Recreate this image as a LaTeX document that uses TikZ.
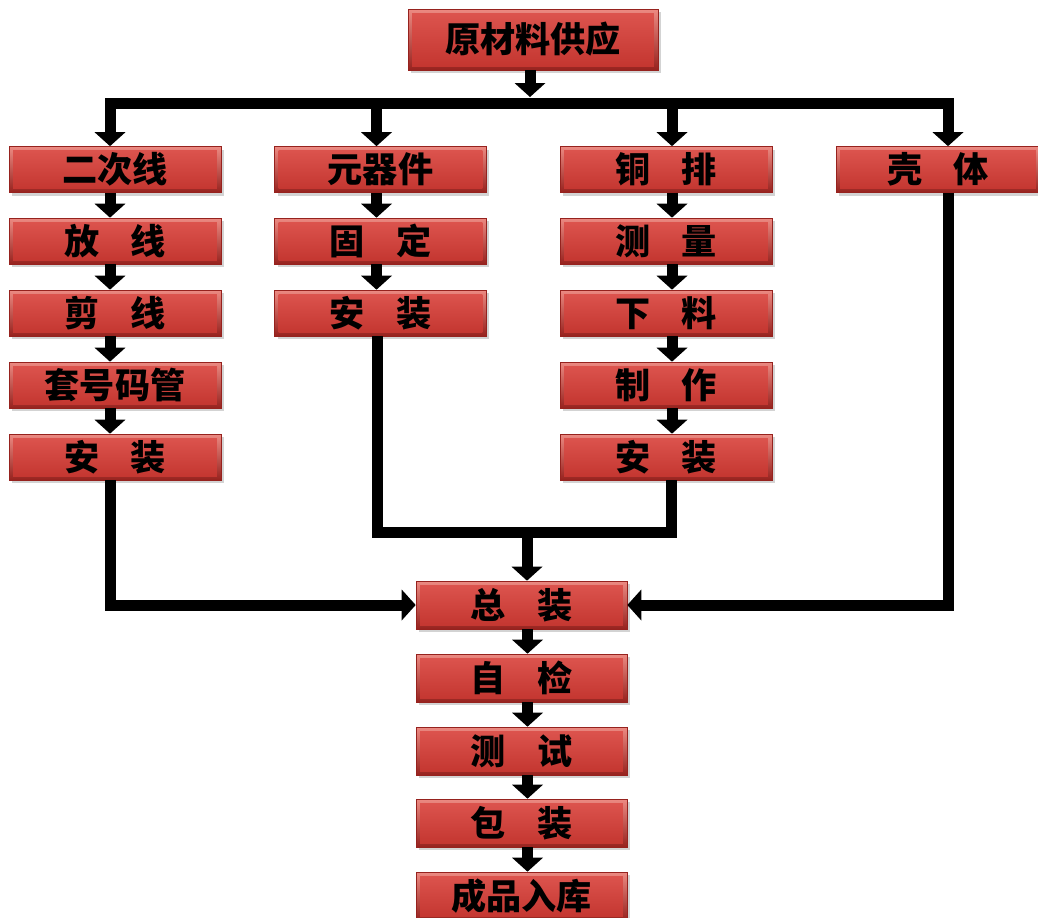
\documentclass[tikz,border=0pt]{standalone}
\usepackage{fontspec}
\newfontfamily\cjk{Noto Sans CJK SC}
\usetikzlibrary{arrows.meta,shadows}

\definecolor{redtop}{RGB}{222,86,80}
\definecolor{redbot}{RGB}{194,52,46}
\definecolor{rededge}{RGB}{150,34,30}
\definecolor{redlight}{RGB}{236,138,130}

\tikzset{
  stage/.style={minimum width=4.24cm, minimum height=0.92cm, inner sep=0pt,
    draw=rededge, line width=0.4pt,
    top color=redlight, bottom color=rededge,
    drop shadow={shadow xshift=0.06cm, shadow yshift=-0.06cm, opacity=0.35},
    font=\cjk\bfseries\fontsize{20}{20}\selectfont,
    path picture={\shade[top color=redtop, bottom color=redbot]
      ([shift={(0.08cm,-0.08cm)}]path picture bounding box.north west) rectangle
      ([shift={(-0.08cm,0.08cm)}]path picture bounding box.south east);}},
  wide/.style={minimum width=4.22cm, minimum height=0.96cm},
  flow/.style={line width=0.22cm, line join=miter,
    -{Triangle[width=0.62cm,length=0.28cm,line width=0pt]}},
  wire/.style={line width=0.22cm, line join=miter},
}
\newcommand{\gap}{\hspace{0.9em}}

\begin{document}
\begin{tikzpicture}[x=0.02cm,y=-0.02cm]
\useasboundingbox (0,0) rectangle (1038,917);

% supply
\node[stage, minimum width=5cm, minimum height=1.22cm] (top) at (533,39.5) {原材料供应};

% column 1: secondary wiring
\node[stage] (c1a) at (115,169.5) {二次线};
\node[stage] (c1b) at (115,241) {放\gap 线};
\node[stage] (c1c) at (115,313) {剪\gap 线};
\node[stage] (c1d) at (115,385) {套号码管};
\node[stage] (c1e) at (115,457) {安\gap 装};

% column 2: components
\node[stage] (c2a) at (380.5,169.5) {元器件};
\node[stage] (c2b) at (380.5,241) {固\gap 定};
\node[stage] (c2c) at (380.5,313) {安\gap 装};

% column 3: copper bars
\node[stage] (c3a) at (666,169.5) {铜\gap 排};
\node[stage] (c3b) at (666,241) {测\gap 量};
\node[stage] (c3c) at (666,313) {下\gap 料};
\node[stage] (c3d) at (666,385) {制\gap 作};
\node[stage] (c3e) at (666,457) {安\gap 装};

% housing
\node[stage, minimum width=4.08cm] (k) at (938,169.5) {壳\gap 体};

% final line
\node[stage, wide] (z1) at (521.5,605) {总\gap 装};
\node[stage, wide] (z2) at (521.5,678) {自\gap 检};
\node[stage, wide] (z3) at (521.5,751) {测\gap 试};
\node[stage, wide] (z4) at (521.5,823) {包\gap 装};
\node[stage, wide] (z5) at (521.5,896) {成品入库};

% drop points
\coordinate (bus) at (530,103);
\coordinate (bustop) at (530,97);
\coordinate (d1) at ([xshift=-0.1cm]c1a.north);
\coordinate (d2) at ([xshift=-0.08cm]c2a.north);
\coordinate (d3) at ([xshift=0.12cm]c3a.north);
\coordinate (d4) at ([xshift=0.2cm]k.north);
\coordinate (j) at (527,532);

% distribution bus
\draw[flow] (top.south -| bustop) -- (bustop);
\draw[wire, line cap=rect] (bus -| d1) -- (bus -| d4);
\foreach \d in {d1,d2,d3,d4} \draw[flow] (bus -| \d) -- (\d);

% column chains
\foreach \a/\b in {c1a/c1b,c1b/c1c,c1c/c1d,c1d/c1e} \draw[flow] ([xshift=-0.1cm]\a.south) -- ([xshift=-0.1cm]\b.north);
\foreach \a/\b in {c2a/c2b,c2b/c2c} \draw[flow] ([xshift=-0.08cm]\a.south) -- ([xshift=-0.08cm]\b.north);
\foreach \a/\b in {c3a/c3b,c3b/c3c,c3c/c3d,c3d/c3e} \draw[flow] ([xshift=0.12cm]\a.south) -- ([xshift=0.12cm]\b.north);
\foreach \a/\b in {z1/z2,z2/z3,z3/z4,z4/z5} \draw[flow] ([xshift=0.12cm]\a.south) -- ([xshift=0.12cm]\b.north);

% merging into final assembly
\coordinate (e2) at ([xshift=-0.06cm]c2c.south);
\coordinate (e3) at ([xshift=0.1cm]c3e.south);
\draw[wire] (e2) |- (j -| e3) -- (e3);
\draw[flow] (j) -- (j |- z1.north);
\draw[flow] ([xshift=-0.1cm]c1e.south) |- (z1.west);
\draw[flow] ([xshift=0.2cm]k.south) |- (z1.east);
\end{tikzpicture}
\end{document}
